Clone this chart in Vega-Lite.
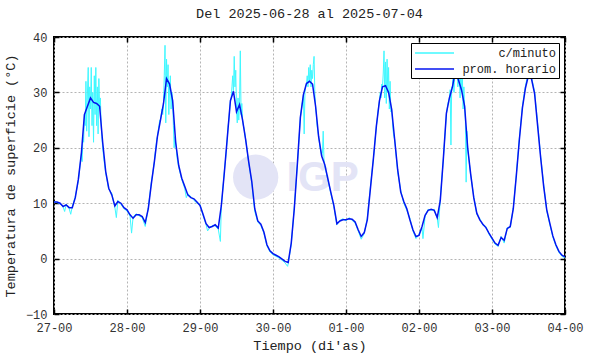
{
  "$schema": "https://vega.github.io/schema/vega-lite/v6.json",
  "width": 511,
  "height": 277,
  "autosize": {"type": "none"},
  "padding": {"left": 54, "top": 37, "right": 25, "bottom": 40},
  "background": "white",
  "title": {"text": "Del 2025-06-28 al 2025-07-04", "font": "Liberation Mono", "fontSize": 13.5, "fontWeight": "normal", "color": "#222", "offset": 11},
  "config": {"view": {"stroke": "black", "strokeWidth": 2}, "font": "Liberation Mono"},
  "datasets": {
    "horario": [
      {"h":0,"v":10.2},{"h":1,"v":10.2},{"h":2,"v":10.0},{"h":3,"v":9.4},{"h":4,"v":9.7},{"h":5,"v":9.2},{"h":6,"v":9.2},{"h":7,"v":11.0},{"h":8,"v":14.3},{"h":9,"v":19.0},{"h":10,"v":26.0},{"h":11,"v":27.5},{"h":12,"v":29.0},{"h":13,"v":28.2},{"h":14,"v":28.0},{"h":15,"v":27.5},{"h":16,"v":21.0},{"h":17,"v":15.7},{"h":18,"v":12.7},{"h":19,"v":11.5},{"h":20,"v":9.5},{"h":21,"v":10.3},{"h":22,"v":10.0},{"h":23,"v":9.2},
      {"h":24,"v":8.8},{"h":25,"v":7.9},{"h":26,"v":7.3},{"h":27,"v":7.9},{"h":28,"v":7.9},{"h":29,"v":7.6},{"h":30,"v":6.5},{"h":31,"v":9.0},{"h":32,"v":13.5},{"h":33,"v":17.5},{"h":34,"v":22.0},{"h":35,"v":25.0},{"h":36,"v":28.0},{"h":37,"v":32.5},{"h":38,"v":31.5},{"h":39,"v":28.5},{"h":40,"v":21.0},{"h":41,"v":16.8},{"h":42,"v":14.5},{"h":43,"v":13.0},{"h":44,"v":11.5},{"h":45,"v":11.0},{"h":46,"v":10.8},{"h":47,"v":10.2},
      {"h":48,"v":9.6},{"h":49,"v":8.0},{"h":50,"v":6.3},{"h":51,"v":5.6},{"h":52,"v":5.8},{"h":53,"v":6.1},{"h":54,"v":5.5},{"h":55,"v":9.5},{"h":56,"v":15.5},{"h":57,"v":22.0},{"h":58,"v":28.5},{"h":59,"v":30.2},{"h":60,"v":26.5},{"h":61,"v":27.8},{"h":62,"v":25.0},{"h":63,"v":21.5},{"h":64,"v":17.5},{"h":65,"v":14.0},{"h":66,"v":9.0},{"h":67,"v":6.8},{"h":68,"v":6.2},{"h":69,"v":4.8},{"h":70,"v":2.5},{"h":71,"v":1.4},
      {"h":72,"v":0.9},{"h":73,"v":0.6},{"h":74,"v":0.3},{"h":75,"v":-0.1},{"h":76,"v":-0.5},{"h":77,"v":-0.7},{"h":78,"v":2.8},{"h":79,"v":9.0},{"h":80,"v":17.0},{"h":81,"v":25.5},{"h":82,"v":29.6},{"h":83,"v":31.6},{"h":84,"v":32.0},{"h":85,"v":31.5},{"h":86,"v":27.5},{"h":87,"v":22.0},{"h":88,"v":18.5},{"h":89,"v":17.0},{"h":90,"v":14.5},{"h":91,"v":12.0},{"h":92,"v":9.6},{"h":93,"v":6.3},{"h":94,"v":6.8},{"h":95,"v":7.0},
      {"h":96,"v":7.0},{"h":97,"v":7.2},{"h":98,"v":7.1},{"h":99,"v":6.6},{"h":100,"v":5.2},{"h":101,"v":4.0},{"h":102,"v":4.7},{"h":103,"v":7.0},{"h":104,"v":12.5},{"h":105,"v":18.0},{"h":106,"v":24.0},{"h":107,"v":28.5},{"h":108,"v":31.0},{"h":109,"v":31.2},{"h":110,"v":30.0},{"h":111,"v":27.0},{"h":112,"v":21.5},{"h":113,"v":16.0},{"h":114,"v":12.0},{"h":115,"v":10.3},{"h":116,"v":9.0},{"h":117,"v":7.0},{"h":118,"v":5.2},{"h":119,"v":4.0},
      {"h":120,"v":4.2},{"h":121,"v":5.8},{"h":122,"v":7.8},{"h":123,"v":8.7},{"h":124,"v":8.9},{"h":125,"v":8.7},{"h":126,"v":7.4},{"h":127,"v":10.5},{"h":128,"v":18.0},{"h":129,"v":26.2},{"h":130,"v":29.0},{"h":131,"v":31.0},{"h":132,"v":34.0},{"h":133,"v":32.2},{"h":134,"v":30.4},{"h":135,"v":27.5},{"h":136,"v":20.0},{"h":137,"v":15.2},{"h":138,"v":11.0},{"h":139,"v":8.2},{"h":140,"v":7.0},{"h":141,"v":6.2},{"h":142,"v":5.6},{"h":143,"v":4.6},
      {"h":144,"v":3.7},{"h":145,"v":2.8},{"h":146,"v":2.4},{"h":147,"v":3.8},{"h":148,"v":3.3},{"h":149,"v":5.4},{"h":150,"v":5.8},{"h":151,"v":9.0},{"h":152,"v":15.0},{"h":153,"v":21.5},{"h":154,"v":27.2},{"h":155,"v":30.8},{"h":156,"v":33.1},{"h":157,"v":32.4},{"h":158,"v":29.8},{"h":159,"v":24.0},{"h":160,"v":18.2},{"h":161,"v":13.0},{"h":162,"v":8.8},{"h":163,"v":6.4},{"h":164,"v":4.1},{"h":165,"v":2.5},{"h":166,"v":1.3},{"h":167,"v":0.6},{"h":168,"v":0.3}
    ],
    "minuto": [
      {"h":0,"v":10.3},{"h":1,"v":10.1},{"h":2,"v":9.9},{"h":3,"v":9.3},{"h":3.5,"v":8.5},{"h":4,"v":9.8},{"h":5,"v":9.0},{"h":5.5,"v":8.0},{"h":6,"v":9.4},{"h":7,"v":11.2},{"h":8,"v":14.0},{"h":8.5,"v":16.5},
      {"h":9,"v":19},{"h":9.25,"v":17.5},{"h":9.5,"v":22},{"h":9.75,"v":21},
      {"h":10,"v":26},{"h":10.25,"v":24},{"h":10.5,"v":32},{"h":10.75,"v":23},
      {"h":11,"v":30},{"h":11.25,"v":34.5},{"h":11.5,"v":22},{"h":11.75,"v":31},
      {"h":12,"v":27},{"h":12.25,"v":34.5},{"h":12.5,"v":24},{"h":12.75,"v":30},
      {"h":13,"v":21},{"h":13.25,"v":33},{"h":13.5,"v":26},{"h":13.75,"v":34.5},
      {"h":14,"v":24},{"h":14.25,"v":31},{"h":14.5,"v":22.5},{"h":14.75,"v":32.5},
      {"h":15,"v":27},{"h":15.25,"v":29},{"h":15.5,"v":24},{"h":15.75,"v":22},
      {"h":16,"v":20},{"h":16.5,"v":17.5},
      {"h":17,"v":15.5},{"h":18,"v":12.5},{"h":19,"v":11.8},{"h":20,"v":9.3},{"h":20.5,"v":7.4},{"h":21,"v":10.5},{"h":22,"v":9.8},{"h":23,"v":9.0},
      {"h":24,"v":8.6},{"h":25,"v":7.7},{"h":25.5,"v":4.6},{"h":26,"v":7.5},{"h":27,"v":8.1},{"h":28,"v":7.7},{"h":29,"v":7.4},{"h":30,"v":5.8},{"h":31,"v":9.2},{"h":32,"v":13.8},{"h":32.5,"v":15.5},
      {"h":33,"v":17.5},{"h":33.25,"v":19},{"h":33.5,"v":20},{"h":33.75,"v":21.5},
      {"h":34,"v":22},{"h":34.25,"v":23},{"h":34.5,"v":24},{"h":34.75,"v":25},
      {"h":35,"v":25},{"h":35.25,"v":26},{"h":35.5,"v":27},{"h":35.75,"v":26},
      {"h":36,"v":28},{"h":36.25,"v":33},{"h":36.5,"v":38.5},{"h":36.75,"v":24.5},
      {"h":37,"v":36},{"h":37.25,"v":31},{"h":37.5,"v":35},{"h":37.75,"v":26},
      {"h":38,"v":31},{"h":38.25,"v":33},{"h":38.5,"v":27},{"h":38.75,"v":30},
      {"h":39,"v":28.5},{"h":39.25,"v":24},{"h":39.5,"v":20},{"h":39.75,"v":22},
      {"h":40,"v":21},{"h":40.5,"v":18},
      {"h":41,"v":16.5},{"h":42,"v":14.3},{"h":43,"v":12.6},{"h":43.5,"v":11},{"h":44,"v":11.7},{"h":45,"v":11.2},{"h":46,"v":10.5},{"h":47,"v":10.0},
      {"h":48,"v":9.8},{"h":49,"v":7.8},{"h":50,"v":6.1},{"h":50.5,"v":5.0},{"h":51,"v":5.4},{"h":52,"v":6.0},{"h":53,"v":5.9},{"h":54,"v":5.3},{"h":54.7,"v":3.1},{"h":55,"v":9.2},{"h":56,"v":15.8},{"h":56.5,"v":18.5},
      {"h":57,"v":22},{"h":57.25,"v":24},{"h":57.5,"v":25},{"h":57.75,"v":27},
      {"h":58,"v":28.5},{"h":58.25,"v":29},{"h":58.5,"v":31},{"h":58.75,"v":33},
      {"h":59,"v":30},{"h":59.25,"v":36.5},{"h":59.5,"v":31},{"h":59.75,"v":34},
      {"h":60,"v":27},{"h":60.25,"v":24.5},{"h":60.5,"v":29},{"h":60.75,"v":25},
      {"h":61,"v":28},{"h":61.25,"v":37.5},{"h":61.5,"v":26},{"h":61.75,"v":28},
      {"h":62,"v":25},{"h":62.25,"v":24},{"h":62.5,"v":23.5},{"h":62.75,"v":22.5},
      {"h":63,"v":21.5},{"h":63.5,"v":19.5},
      {"h":64,"v":17.3},{"h":65,"v":13.8},{"h":66,"v":8.5},{"h":67,"v":6.6},{"h":68,"v":6.0},{"h":69,"v":4.6},{"h":70,"v":2.3},{"h":71,"v":1.2},
      {"h":72,"v":0.7},{"h":73,"v":0.4},{"h":74,"v":0.1},{"h":75,"v":-0.3},{"h":76,"v":-0.8},{"h":76.8,"v":-1.4},{"h":77,"v":-0.9},{"h":78,"v":2.6},{"h":79,"v":9.3},{"h":80,"v":16.8},{"h":80.5,"v":21},
      {"h":81,"v":25.5},{"h":81.25,"v":26.5},{"h":81.5,"v":27.5},{"h":81.75,"v":28.5},
      {"h":82,"v":29.5},{"h":82.25,"v":22.5},{"h":82.5,"v":30},{"h":82.75,"v":31},
      {"h":83,"v":31.5},{"h":83.25,"v":33},{"h":83.5,"v":31},{"h":83.75,"v":34.5},
      {"h":84,"v":32},{"h":84.25,"v":35},{"h":84.5,"v":31},{"h":84.75,"v":34},
      {"h":85,"v":32.5},{"h":85.25,"v":35},{"h":85.5,"v":36.5},{"h":85.75,"v":30},
      {"h":86,"v":27.5},{"h":86.25,"v":26},{"h":86.5,"v":24},{"h":86.75,"v":23},
      {"h":87,"v":22},{"h":87.25,"v":21},{"h":87.5,"v":20},{"h":87.75,"v":19.5},
      {"h":88,"v":18.5},{"h":88.25,"v":19},{"h":88.5,"v":23},{"h":88.75,"v":18},
      {"h":89,"v":16.8},{"h":90,"v":14.3},{"h":91,"v":11.8},{"h":92,"v":9.4},{"h":93,"v":6.1},{"h":94,"v":6.9},{"h":95,"v":7.2},
      {"h":96,"v":6.8},{"h":97,"v":7.4},{"h":98,"v":6.9},{"h":99,"v":6.4},{"h":100,"v":5.0},{"h":101,"v":3.5},{"h":102,"v":4.5},{"h":103,"v":7.3},{"h":104,"v":12.8},{"h":104.5,"v":15.5},
      {"h":105,"v":18},{"h":105.25,"v":19.5},{"h":105.5,"v":21},{"h":105.75,"v":22.5},
      {"h":106,"v":24},{"h":106.25,"v":25},{"h":106.5,"v":26.5},{"h":106.75,"v":27.5},
      {"h":107,"v":28.5},{"h":107.25,"v":30},{"h":107.5,"v":29},{"h":107.75,"v":31.5},
      {"h":108,"v":31},{"h":108.25,"v":33.5},{"h":108.5,"v":37.5},{"h":108.75,"v":29},
      {"h":109,"v":35.5},{"h":109.25,"v":28},{"h":109.5,"v":36},{"h":109.75,"v":30},
      {"h":110,"v":34.5},{"h":110.25,"v":27},{"h":110.5,"v":32},{"h":110.75,"v":26.5},
      {"h":111,"v":27},{"h":111.25,"v":25},{"h":111.5,"v":23},{"h":111.75,"v":22},
      {"h":112,"v":21.5},{"h":112.5,"v":18.5},
      {"h":113,"v":15.6},{"h":114,"v":12.3},{"h":115,"v":10.0},{"h":116,"v":8.7},{"h":117,"v":7.3},{"h":118,"v":5.0},{"h":119,"v":3.6},
      {"h":120,"v":4.4},{"h":121,"v":5.5},{"h":121.3,"v":3.6},{"h":122,"v":7.6},{"h":123,"v":8.9},{"h":124,"v":8.7},{"h":125,"v":8.9},{"h":126,"v":7.2},{"h":126.4,"v":5.6},{"h":127,"v":10.8},
      {"h":128,"v":18},{"h":128.25,"v":20},{"h":128.5,"v":22},{"h":128.75,"v":24},
      {"h":129,"v":26},{"h":129.25,"v":27},{"h":129.5,"v":28},{"h":129.75,"v":28.5},
      {"h":130,"v":29},{"h":130.25,"v":30.5},{"h":130.5,"v":20.5},{"h":130.75,"v":31},
      {"h":131,"v":31},{"h":131.25,"v":35},{"h":131.5,"v":30},{"h":131.75,"v":34},
      {"h":132,"v":34},{"h":132.25,"v":37},{"h":132.5,"v":38.3},{"h":132.75,"v":31},
      {"h":133,"v":32},{"h":133.25,"v":36},{"h":133.5,"v":29},{"h":133.75,"v":34.5},
      {"h":134,"v":30.5},{"h":134.25,"v":33},{"h":134.5,"v":27},{"h":134.75,"v":31},
      {"h":135,"v":27.5},{"h":135.25,"v":25},{"h":135.5,"v":13.8},{"h":135.75,"v":23},
      {"h":136,"v":20},{"h":136.5,"v":17.5},
      {"h":137,"v":15.0},{"h":138,"v":11.2},{"h":139,"v":8.0},{"h":140,"v":7.2},{"h":141,"v":6.0},{"h":142,"v":5.8},{"h":143,"v":4.4},
      {"h":144,"v":3.5},{"h":145,"v":2.6},{"h":146,"v":2.2},{"h":147,"v":4.0},{"h":148,"v":2.8},{"h":149,"v":5.6},{"h":150,"v":5.6},{"h":151,"v":9.2},{"h":152,"v":15.2},{"h":153,"v":21.8},{"h":154,"v":27.5},{"h":155,"v":31.2},{"h":155.5,"v":32.5},{"h":156,"v":33.4},{"h":156.25,"v":34.3},{"h":156.5,"v":33.0},{"h":157,"v":32.7},{"h":158,"v":30.2},{"h":159,"v":24.4},{"h":160,"v":18.5},{"h":161,"v":13.3},{"h":162,"v":8.6},{"h":163,"v":6.2},{"h":164,"v":3.9},{"h":165,"v":2.3},{"h":166,"v":1.1},{"h":167,"v":0.4},{"h":168,"v":0.1}
    ],
    "logo": [{"h": 66.3, "v": 14.7}],
    "logotext": [{"h": 88.3, "v": 14.6, "t": "IGP"}]
  },
  "layer": [
    {
      "data": {"name": "logo"},
      "mark": {"type": "point", "shape": "circle", "filled": true, "size": 2050, "color": "#e3e4f6", "opacity": 1},
      "encoding": {
        "x": {"field": "h", "type": "quantitative", "axis": null},
        "y": {"field": "v", "type": "quantitative", "axis": null}
      }
    },
    {
      "data": {"name": "logotext"},
      "mark": {"type": "text", "font": "Liberation Sans", "fontWeight": "bold", "fontSize": 42, "color": "#e3e4f6", "align": "center", "baseline": "middle"},
      "encoding": {
        "x": {"field": "h", "type": "quantitative", "axis": null},
        "y": {"field": "v", "type": "quantitative", "axis": null},
        "text": {"field": "t"}
      }
    },
    {
      "data": {"name": "minuto"},
      "mark": {"type": "line", "strokeWidth": 1, "interpolate": "linear"},
      "encoding": {
        "x": {"field": "h", "type": "quantitative",
          "axis": {"orient": "top", "values": [0,24,48,72,96,120,144,168], "labels": false, "title": null, "grid": false, "domain": false, "tickSize": -5, "tickColor": "black", "tickWidth": 1.5}},
        "y": {"field": "v", "type": "quantitative",
          "axis": {"orient": "right", "values": [-10,0,10,20,30,40], "labels": false, "title": null, "grid": false, "domain": false, "tickSize": -5, "tickColor": "black", "tickWidth": 1.5}},
        "color": {"datum": "c/minuto", "type": "nominal",
          "scale": {"domain": ["c/minuto", "prom. horario"], "range": ["#3ff8ff", "#0414f0"]},
          "legend": {"title": null, "orient": "top-right", "offset": 6, "padding": 3, "strokeColor": "black", "fillColor": "white",
            "symbolType": "M-1,0H5.5", "symbolSize": 144, "symbolStrokeWidth": 1.5,
            "labelAlign": "right", "labelOffset": 128, "labelFont": "Liberation Mono", "labelFontSize": 12, "labelColor": "#222", "rowPadding": 3}}
      }
    },
    {
      "data": {"name": "horario"},
      "mark": {"type": "line", "strokeWidth": 1.5, "interpolate": "linear"},
      "encoding": {
        "x": {"field": "h", "type": "quantitative", "scale": {"domain": [0, 168], "nice": false, "zero": false},
          "axis": {"values": [0,24,48,72,96,120,144,168],
            "labelExpr": "['27-00','28-00','29-00','30-00','01-00','02-00','03-00','04-00'][round(datum.value/24)]",
            "title": "Tiempo (di'as)", "grid": true, "gridColor": "#b4b4b4", "gridDash": [2, 2], "domain": false,
            "tickSize": -5, "tickColor": "black", "tickWidth": 1.5, "labelPadding": 13, "labelFlush": false, "labelOverlap": false,
            "labelFont": "Liberation Mono", "labelFontSize": 12, "labelColor": "#333",
            "titleFont": "Liberation Mono", "titleFontSize": 13.5, "titleFontWeight": "normal", "titleColor": "#222", "titlePadding": 5}},
        "y": {"field": "v", "type": "quantitative", "scale": {"domain": [-10, 40], "nice": false, "zero": false},
          "axis": {"values": [-10,0,10,20,30,40], "title": "Temperatura de superficie (°C)", "grid": true, "gridColor": "#b4b4b4", "gridDash": [2, 2], "domain": false,
            "tickSize": -5, "tickColor": "black", "tickWidth": 1.5, "labelPadding": 12, "labelFlush": false, "labelOverlap": false,
            "labelFont": "Liberation Mono", "labelFontSize": 12, "labelColor": "#333",
            "titleFont": "Liberation Mono", "titleFontSize": 13.5, "titleFontWeight": "normal", "titleColor": "#222", "titlePadding": 8}},
        "color": {"datum": "prom. horario", "type": "nominal"}
      }
    }
  ],
  "resolve": {"axis": {"x": "independent", "y": "independent"}}
}
